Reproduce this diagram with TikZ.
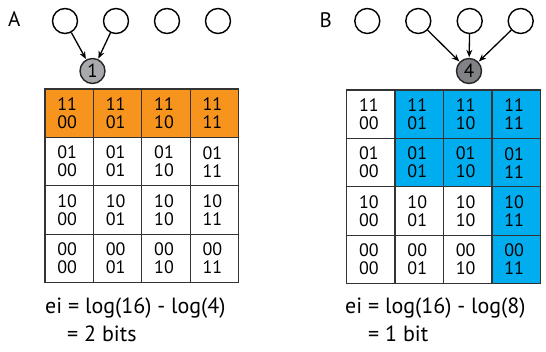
\documentclass[tikz,border=0pt]{standalone}
\usepackage{fontspec}
\setmainfont{PT Sans}
\usetikzlibrary{arrows.meta}
\definecolor{aorange}{HTML}{F7941D}
\definecolor{bblue}{HTML}{00AEEF}
\definecolor{graya}{HTML}{A7A9AC}
\definecolor{grayb}{HTML}{808285}
\definecolor{gline}{HTML}{333333}
\begin{document}
\begin{tikzpicture}[x=1pt,y=-1pt,
  varnode/.style={circle,draw=black,line width=1.4pt,minimum size=25pt,inner sep=0pt},
  mechnode/.style={circle,draw=black!85,line width=1.4pt,minimum size=25pt,inner sep=0pt,font=\fontsize{19}{19}\selectfont},
  cell/.style={rectangle,draw=gline,line width=1.3pt,minimum width=48.4pt,minimum height=48.4pt,inner sep=0pt,
    align=center,font=\fontsize{18}{18}\selectfont},
  conn/.style={-{Stealth[length=7.5pt,width=6pt]},line width=1.3pt,shorten >=0.5pt,shorten <=0pt},
  eq/.style={anchor=base west,inner sep=0pt,font=\fontsize{22}{26}\selectfont},
  panel/.style={anchor=base west,inner sep=0pt,font=\fontsize{21}{24}\selectfont}
]
\useasboundingbox (0,0) rectangle (546,352);
% ---------- Panel A ----------
\node[panel] (labA) at (8,27) {A};
\foreach \i/\x in {1/65,2/116,3/167,4/218}
  \node[varnode] (a\i) at (\x,21) {};
\node[mechnode,fill=graya] (ma) at (92.5,71) {1};
\draw[conn] (a1) -- (ma);
\draw[conn] (a2) -- (ma);
\foreach \r/\tp in {0/11,1/01,2/10,3/00}
  \foreach \c/\bt in {0/00,1/01,2/10,3/11}{
    \pgfmathsetmacro\cx{45+24.2+48.4*\c}
    \pgfmathsetmacro\cy{89+24.2+48.4*\r}
    \ifnum\r=0 \def\cf{aorange}\else\def\cf{white}\fi
    \node[cell,fill=\cf] (A-\r-\c) at (\cx,\cy) {\hspace*{-4pt}\tp\\\hspace*{-4pt}\bt};
  }
\node[eq] (eqA1) at (45,313.5) {ei = log(16) - log(4)};
\node[eq] (eqA2) at (67,342) {= 2 bits};
% ---------- Panel B ----------
\node[panel] (labB) at (319.5,28) {B};
\foreach \i/\x in {1/367.3,2/418.3,3/469.7,4/520.7}
  \node[varnode] (b\i) at (\x,21) {};
\node[mechnode,fill=grayb] (mb) at (469,71) {4};
\draw[conn] (b2) -- (mb);
\draw[conn] (b3) -- (mb);
\draw[conn] (b4) -- (mb);
\foreach \r/\tp in {0/11,1/01,2/10,3/00}
  \foreach \c/\bt in {0/00,1/01,2/10,3/11}{
    \pgfmathsetmacro\cx{346.7+24.2+48.4*\c}
    \pgfmathsetmacro\cy{90+24.2+48.4*\r}
    \pgfmathtruncatemacro\hl{or(and(\c>0,\r<2),\c==3)}
    \ifnum\hl=1 \def\cf{bblue}\else\def\cf{white}\fi
    \node[cell,fill=\cf] (B-\r-\c) at (\cx,\cy) {\hspace*{-4pt}\tp\\\hspace*{-4pt}\bt};
  }
\node[eq] (eqB1) at (345,313.5) {ei = log(16) - log(8)};
\node[eq] (eqB2) at (368,342) {= 1 bit};
\end{tikzpicture}
\end{document}
